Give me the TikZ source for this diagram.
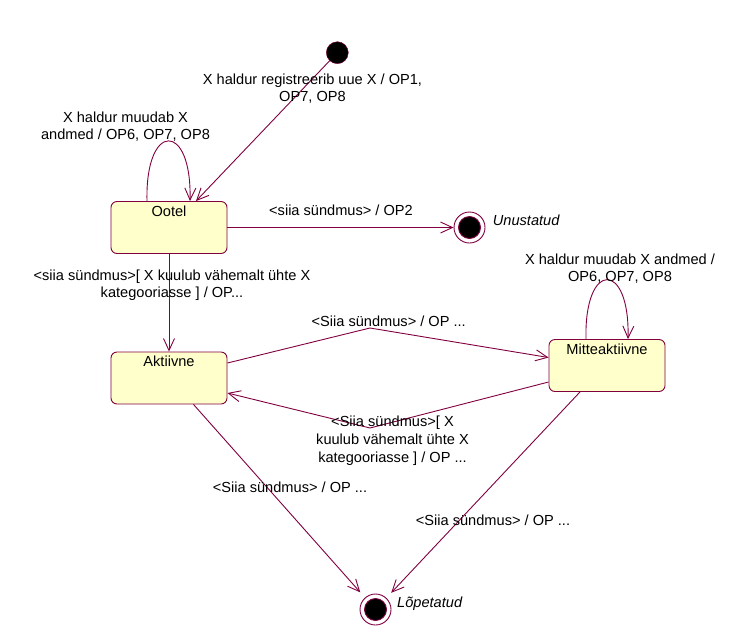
\documentclass[tikz,border=0pt]{standalone}
\usepackage{fontspec}
\setmainfont{Liberation Sans}
\usetikzlibrary{arrows.meta}
\definecolor{umlline}{RGB}{128,0,64}
\definecolor{umlfill}{RGB}{255,255,204}

\begin{document}
\begin{tikzpicture}[x=1pt,y=-1pt,
  txt/.style={font=\fontsize{14.6}{17}\selectfont},
  state/.style={draw=umlline, fill=umlfill, rounded corners=6pt,
    minimum width=116pt, minimum height=52pt, inner sep=0pt, line width=0.9pt},
  statename/.style={label={[txt, anchor=base, inner sep=0pt, yshift=-15pt]north:#1}},
  trans/.style={draw=umlline, line width=0.9pt,
    -{Straight Barb[length=12pt,width=11pt]}},
  initstate/.style={circle, fill=black, draw=umlline, minimum size=22pt, inner sep=0pt},
  finalstate/.style={circle, draw=umlline, fill=white, minimum size=31pt,
    inner sep=0pt, line width=0.9pt,
    path picture={\filldraw[fill=black, draw=umlline]
      (path picture bounding box.center) circle (11pt);}},
  % multi-line labels are placed by the baseline of their last line
  lbl/.style={txt, align=center, anchor=base, inner sep=0pt},
  fname/.style={anchor=base west, inner sep=0pt,
    font=\fontsize{14.6}{17}\selectfont\itshape},
  ]
\useasboundingbox (0,0) rectangle (743,635);

% states
\node[initstate] (init) at (337.3,52.7) {};
\node[state, statename=Ootel] (ootel) at (169,227.5) {};
\node[finalstate] (unust) at (469.5,227.5) {};
\node[state, statename=Aktiivne] (akt) at (169,378) {};
\node[state, statename=Mitteaktiivne] (mitte) at (607,365.5) {};
\node[finalstate] (lop) at (375.5,609.5) {};

\node[fname] (unustname) at (492.7,225.7) {Unustatud};
\node[fname] (lopname) at (397,607.3) {Lõpetatud};

% bend points of the two transitions between Aktiivne and Mitteaktiivne
\coordinate (b1) at (370,328);
\coordinate (b2) at (370,428);

% transitions
\draw[trans] (init) -- ([xshift=27pt]ootel.north);
\draw[trans] ([xshift=-22pt]ootel.north) .. controls +(-2,-80) and +(2,-80) .. ([xshift=21pt]ootel.north);
\draw[trans] (ootel) -- (unust);
\draw[trans] (ootel.south) -- (akt.north);
\draw[trans] ([xshift=-21pt]mitte.north) .. controls +(-2,-79) and +(2,-79) .. ([xshift=21pt]mitte.north);
\draw[trans] ([yshift=15pt]akt.east) -- (b1) -- ([yshift=8pt]mitte.west);
\draw[trans] ([yshift=-16.5pt]mitte.west) -- (b2) -- ([yshift=-15pt]akt.east);
\draw[trans, shorten >=7pt] ([xshift=24.5pt]akt.south) -- (lop);
\draw[trans, shorten >=7pt] ([xshift=-27pt]mitte.south) -- (lop);

% transition labels
\node[lbl] (l1) at (312.5,101.7) {X haldur registreerib uue X / OP1,\\OP7, OP8};
\node[lbl] (l2) at (125.5,139.3) {X haldur muudab X\\andmed / OP6, OP7, OP8};
\node[lbl] (l3) at (341,215.7) {<siia sündmus> / OP2};
\node[lbl] (l4) at (172,297) {<siia sündmus>[ X kuulub vähemalt ühte X\\kategooriasse ] / OP...};
\node[lbl] (l5) at (620,281.7) {X haldur muudab X andmed /\\OP6, OP7, OP8};
\node[lbl] (l6) at (388.7,326) {<Siia sündmus> / OP ...};
\node[lbl, font=\fontsize{14.6}{18}\selectfont] (l7) at (392.5,462) {<Siia sündmus>[ X\\kuulub vähemalt ühte X\\kategooriasse ] / OP ...};
\node[lbl] (l8) at (290,492.7) {<Siia sündmus> / OP ...};
\node[lbl] (l9) at (493,525.7) {<Siia sündmus> / OP ...};
\end{tikzpicture}
\end{document}
